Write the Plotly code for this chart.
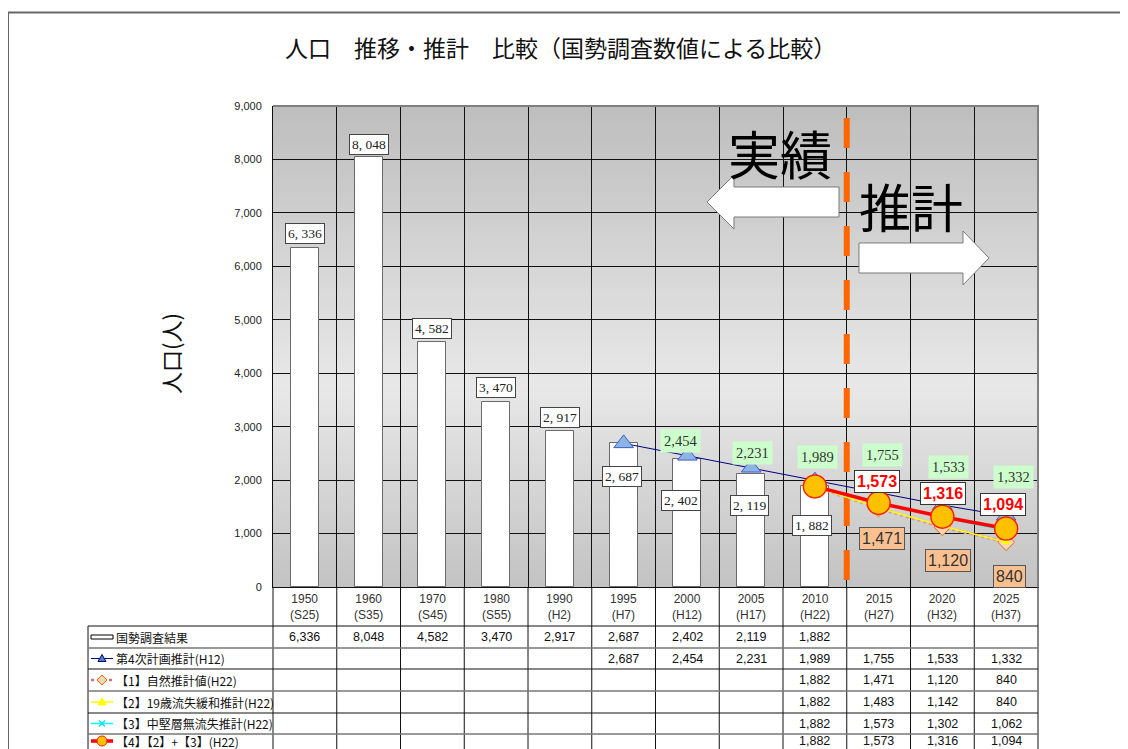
import plotly.graph_objects as go

# ---------------- data ----------------
years = ["1950", "1960", "1970", "1980", "1990", "1995", "2000", "2005", "2010", "2015", "2020", "2025"]
eras = ["(S25)", "(S35)", "(S45)", "(S55)", "(H2)", "(H7)", "(H12)", "(H17)", "(H22)", "(H27)", "(H32)", "(H37)"]
census = [6336, 8048, 4582, 3470, 2917, 2687, 2402, 2119, 1882, None, None, None]
plan4 = [None, None, None, None, None, 2687, 2454, 2231, 1989, 1755, 1533, 1332]
natural = [None] * 8 + [1882, 1471, 1120, 840]
youth = [None] * 8 + [1882, 1483, 1142, 840]
midlayer = [None] * 8 + [1882, 1573, 1302, 1062]
combined = [None] * 8 + [1882, 1573, 1316, 1094]
row_labels = ["国勢調査結果", "第4次計画推計(H12)", "【1】自然推計値(H22)",
              "【2】19歳流失緩和推計(H22)", "【3】中堅層無流失推計(H22)", "【4】【2】+【3】(H22)"]
title_text = "人口　推移・推計　比較（国勢調査数値による比較）"
y_title = "人口(人)"

# ---------------- geometry helpers (screen pixel coords) ----------------
OFF = 8  # default page body margin
W_WIN, H_WIN = 1128, 749
W_FIG, H_FIG = W_WIN - OFF, H_WIN - OFF
L, R, T, B = 273, 1038, 106, 587
PW, PH = R - L, B - T
YMAX = 9000
idx = list(range(len(years)))


def px(x):
    return (x - L) / PW


def py(y):
    return (B - y) / PH


def ydata(p):
    return (B - p) / PH * YMAX


JP = "Noto Sans CJK JP, Noto Sans CJK SC, sans-serif"
NUM = "Liberation Sans, Arial, sans-serif"
SERIF = "Liberation Serif, DejaVu Serif, serif"

fig = go.Figure()

# bars
fig.add_trace(go.Bar(x=idx, y=census, width=0.44,
                     marker=dict(color="white", line=dict(color="#6a6a6a", width=1)),
                     hoverinfo="skip", showlegend=False))

# orange dashed divider
fig.add_trace(go.Scatter(x=[8.5, 8.5], y=[ydata(580), ydata(118)], mode="lines",
                         line=dict(color="#ff6600", width=6, dash="30px,24px"),
                         hoverinfo="skip", showlegend=False))

# projections
fig.add_trace(go.Scatter(x=idx, y=natural, mode="lines+markers",
                         line=dict(color="#d99694", width=3, dash="dot"),
                         marker=dict(symbol="diamond", size=13, color="#fcd5b4",
                                     line=dict(color="#e46c0a", width=1)),
                         showlegend=False, hoverinfo="skip"))
fig.add_trace(go.Scatter(x=idx, y=youth, mode="lines+markers",
                         line=dict(color="#ffff00", width=1.5),
                         marker=dict(symbol="triangle-up", size=8, color="#ffff00"),
                         showlegend=False, hoverinfo="skip"))
fig.add_trace(go.Scatter(x=idx, y=midlayer, mode="lines+markers",
                         line=dict(color="#00ffff", width=1.5),
                         marker=dict(symbol="x-thin", size=7, line=dict(color="#00ffff", width=1.5)),
                         showlegend=False, hoverinfo="skip"))
fig.add_trace(go.Scatter(x=idx, y=plan4, mode="lines+markers",
                         line=dict(color="#000080", width=1),
                         marker=dict(symbol="triangle-up", size=17, color="#8db4e2",
                                     line=dict(color="#3a5fcd", width=1)),
                         showlegend=False, hoverinfo="skip"))
fig.add_trace(go.Scatter(x=idx, y=combined, mode="lines+markers",
                         line=dict(color="#ff0000", width=3.5),
                         marker=dict(symbol="circle", size=23, color="#ffc000",
                                     line=dict(color="#ff2000", width=1.5)),
                         showlegend=False, hoverinfo="skip"))

ann = []


def pann(x, y, text, font, xanchor="center", **kw):
    ann.append(dict(x=x, y=y, xref="paper", yref="paper", text=text, showarrow=False,
                    xanchor=xanchor, yanchor="middle", font=font, **kw))


# census bar labels
c_yshift = [15, 12, 14, 14, 14, -33, -42, -32, -39]
c_xshift = [0, 0, 0, 0, 0, -2, -6, -2, -3]
for i, v in enumerate(census):
    if v is None:
        continue
    ann.append(dict(x=i, y=v, xref="x", yref="y", text=f"{v:,}".replace(",", ", "),
                    showarrow=False, yshift=c_yshift[i], xshift=c_xshift[i],
                    xanchor="center", yanchor="middle",
                    font=dict(family=SERIF, size=13.5, color="#222"),
                    bgcolor="white", bordercolor="#444", borderwidth=1, borderpad=2))

# plan4 green labels
p_off = {6: (15, -7), 7: (15, 1), 8: (24, 3), 9: (38, 4), 10: (38, 6), 11: (39, 7)}
for i, v in enumerate(plan4):
    if v is None or i not in p_off:
        continue
    ys, xs = p_off[i]
    ann.append(dict(x=i, y=v, xref="x", yref="y", text=f"{v:,}", showarrow=False,
                    xanchor="center", yanchor="middle",
                    yshift=ys, xshift=xs, font=dict(family=SERIF, size=14.5, color="#333"),
                    bgcolor="#ccffcc", borderpad=3))

# combined red labels
r_off = {9: (21, -2), 10: (23, 1), 11: (24, -3)}
for i, v in enumerate(combined):
    if i in r_off:
        ys, xs = r_off[i]
        ann.append(dict(x=i, y=v, xref="x", yref="y", text=f"<b>{v:,}</b>", showarrow=False,
                        xanchor="center", yanchor="middle",
                        yshift=ys, xshift=xs, font=dict(family=NUM, size=16, color="#ff0000"),
                        bgcolor="white", bordercolor="#333", borderwidth=1, borderpad=2))

# natural orange labels
n_off = {9: (-30, 3), 10: (-33, 6), 11: (-34, 3)}
for i, v in enumerate(natural):
    if i in n_off:
        ys, xs = n_off[i]
        ann.append(dict(x=i, y=v, xref="x", yref="y", text=f"{v:,}", showarrow=False,
                        xanchor="center", yanchor="middle",
                        yshift=ys, xshift=xs, font=dict(family=NUM, size=16, color="#333"),
                        bgcolor="#fac090", bordercolor="#555", borderwidth=1, borderpad=2))

# big texts
pann(px(780), py(152), "実績", dict(family=JP, size=52, color="#000"))
pann(px(911), py(205), "推計", dict(family=JP, size=52, color="#000"))

# title and axis title
pann(px(560), py(47), title_text, dict(family=JP, size=23, color="#111"))
pann(px(170), py(354), y_title, dict(family=JP, size=22, color="#111"), textangle=-90)

# table header
for i in idx:
    pann((i + 0.5) / len(idx), py(607), f"{years[i]}<br>{eras[i]}",
         dict(family=NUM, size=12, color="#333"))

rows = [census, plan4, natural, youth, midlayer, combined]
row_centers = [637, 658.5, 680, 702, 723.5, 741]
for r, (vals, yc) in enumerate(zip(rows, row_centers)):
    pann(px(114), py(yc), row_labels[r], dict(family=JP, size=12, color="#111"), xanchor="left")
    for i, v in enumerate(vals):
        if v is None:
            continue
        pann((i + 0.5) / len(idx), py(yc), f"{v:,}", dict(family=NUM, size=12.5, color="#111"))

shapes = []

# plot background gradient
n = 90
for j in range(n):
    t = 1 - (j + 0.5) / n  # 0 top, 1 bottom
    if t < 0.58:
        g = 190 + (232 - 190) * t / 0.58
    else:
        g = 232 - (232 - 194) * (t - 0.58) / 0.42
    g = int(round(g))
    shapes.append(dict(type="rect", xref="paper", yref="paper", x0=0, x1=1,
                       y0=j / n, y1=(j + 1) / n + 0.002, layer="below",
                       fillcolor=f"rgb({g},{g},{g})", line=dict(width=0)))

# frame lines
shapes.append(dict(type="line", xref="paper", yref="paper", x0=0, x1=px(1039), y0=py(106), y1=py(106),
                   line=dict(color="#808080", width=2)))
shapes.append(dict(type="line", xref="paper", yref="paper", x0=px(1038), x1=px(1038), y0=py(105), y1=py(588),
                   line=dict(color="#808080", width=2)))
# outer page border
shapes.append(dict(type="line", xref="paper", yref="paper", x0=px(7), x1=px(1130), y0=py(12.5), y1=py(12.5),
                   line=dict(color="#666", width=2)))
shapes.append(dict(type="line", xref="paper", yref="paper", x0=px(8), x1=px(8), y0=py(12), y1=py(760),
                   line=dict(color="#666", width=2)))


def path(points):
    return "M " + " L ".join(f"{px(a):.5f},{py(b):.5f}" for a, b in points) + " Z"


# arrows
shapes.append(dict(type="path", xref="paper", yref="paper", layer="above",
                   path=path([(707, 202), (734, 175), (734, 187), (839, 187), (839, 217), (734, 217), (734, 229)]),
                   fillcolor="white", line=dict(color="#7a7a7a", width=1)))
shapes.append(dict(type="path", xref="paper", yref="paper", layer="above",
                   path=path([(859, 243), (963, 243), (963, 231), (989, 258), (963, 285), (963, 273), (859, 273)]),
                   fillcolor="white", line=dict(color="#7a7a7a", width=1)))

# table grid
col_x = [L + PW / len(idx) * k for k in range(len(idx) + 1)]
for k, xx in enumerate(col_x):
    shapes.append(dict(type="line", xref="paper", yref="paper", x0=px(xx), x1=px(xx),
                       y0=py(587), y1=py(760), line=dict(color="#111", width=1)))
shapes.append(dict(type="line", xref="paper", yref="paper", x0=px(88), x1=px(88),
                   y0=py(626), y1=py(760), line=dict(color="#111", width=1)))
row_lines = [626, 648, 669, 691, 713, 734]
for r, yy in enumerate(row_lines):
    shapes.append(dict(type="line", xref="paper", yref="paper", x0=px(88), x1=px(1038),
                       y0=py(yy), y1=py(yy),
                       line=dict(color="#111" if r % 2 == 0 else "#777", width=1 if r % 2 == 0 else 1.5)))

# legend symbols in table
sx0, sx1, scx = 91, 113, 102
yc = row_centers
shapes.append(dict(type="rect", xref="paper", yref="paper", x0=px(sx0), x1=px(sx1),
                   y0=py(yc[0] - 2), y1=py(yc[0] + 2), fillcolor="white", line=dict(color="#000", width=1)))
# plan4
shapes.append(dict(type="line", xref="paper", yref="paper", x0=px(sx0), x1=px(sx1), y0=py(yc[1]), y1=py(yc[1]),
                   line=dict(color="#000080", width=1)))
shapes.append(dict(type="path", xref="paper", yref="paper",
                   path=path([(scx - 4, yc[1] + 3), (scx, yc[1] - 4), (scx + 4, yc[1] + 3)]),
                   fillcolor="#4f81bd", line=dict(color="#000080", width=1)))
# natural
shapes.append(dict(type="line", xref="paper", yref="paper", x0=px(sx0), x1=px(sx1), y0=py(yc[2]), y1=py(yc[2]),
                   line=dict(color="#d07070", width=2.5, dash="dot")))
shapes.append(dict(type="path", xref="paper", yref="paper",
                   path=path([(scx - 5, yc[2]), (scx, yc[2] - 5), (scx + 5, yc[2]), (scx, yc[2] + 5)]),
                   fillcolor="#fcd5b4", line=dict(color="#e46c0a", width=1)))
# youth
shapes.append(dict(type="line", xref="paper", yref="paper", x0=px(sx0), x1=px(sx1), y0=py(yc[3]), y1=py(yc[3]),
                   line=dict(color="#ffff00", width=1.5)))
shapes.append(dict(type="path", xref="paper", yref="paper",
                   path=path([(scx - 4, yc[3] + 3), (scx, yc[3] - 4), (scx + 4, yc[3] + 3)]),
                   fillcolor="#ffff00", line=dict(color="#ffff00", width=1)))
# midlayer
shapes.append(dict(type="line", xref="paper", yref="paper", x0=px(sx0), x1=px(sx1), y0=py(yc[4]), y1=py(yc[4]),
                   line=dict(color="#00ffff", width=1.5)))
shapes.append(dict(type="line", xref="paper", yref="paper", x0=px(scx - 3), x1=px(scx + 3),
                   y0=py(yc[4] - 3), y1=py(yc[4] + 3), line=dict(color="#00e0f0", width=1.2)))
shapes.append(dict(type="line", xref="paper", yref="paper", x0=px(scx - 3), x1=px(scx + 3),
                   y0=py(yc[4] + 3), y1=py(yc[4] - 3), line=dict(color="#00e0f0", width=1.2)))
# combined
shapes.append(dict(type="line", xref="paper", yref="paper", x0=px(sx0), x1=px(sx1), y0=py(yc[5]), y1=py(yc[5]),
                   line=dict(color="#ff0000", width=3.5)))
shapes.append(dict(type="circle", xref="paper", yref="paper", x0=px(scx - 5), x1=px(scx + 5),
                   y0=py(yc[5] - 5), y1=py(yc[5] + 5), fillcolor="#ffc000", line=dict(color="#ff2000", width=1)))

fig.update_layout(
    width=W_FIG, height=H_FIG, autosize=False,
    margin=dict(l=L - OFF, r=W_WIN - R, t=T - OFF, b=H_WIN - B, pad=0),
    paper_bgcolor="white", plot_bgcolor="#d8d8d8",
    showlegend=False, bargap=0,
    annotations=ann, shapes=shapes,
    xaxis=dict(range=[-0.5, 11.5], showticklabels=False, tick0=0.5, dtick=1,
               showgrid=True, gridcolor="#111", gridwidth=1, zeroline=False,
               showline=True, linecolor="#111", linewidth=1, fixedrange=True),
    yaxis=dict(range=[0, YMAX], dtick=1000, tickformat=",", showgrid=True,
               gridcolor="#111", gridwidth=1, zeroline=False, showline=True,
               linecolor="#111", linewidth=1, ticks="", ticklabelstandoff=8,
               tickfont=dict(family=NUM, size=11, color="#222"), fixedrange=True),
)

fig.write_html("out.html")
